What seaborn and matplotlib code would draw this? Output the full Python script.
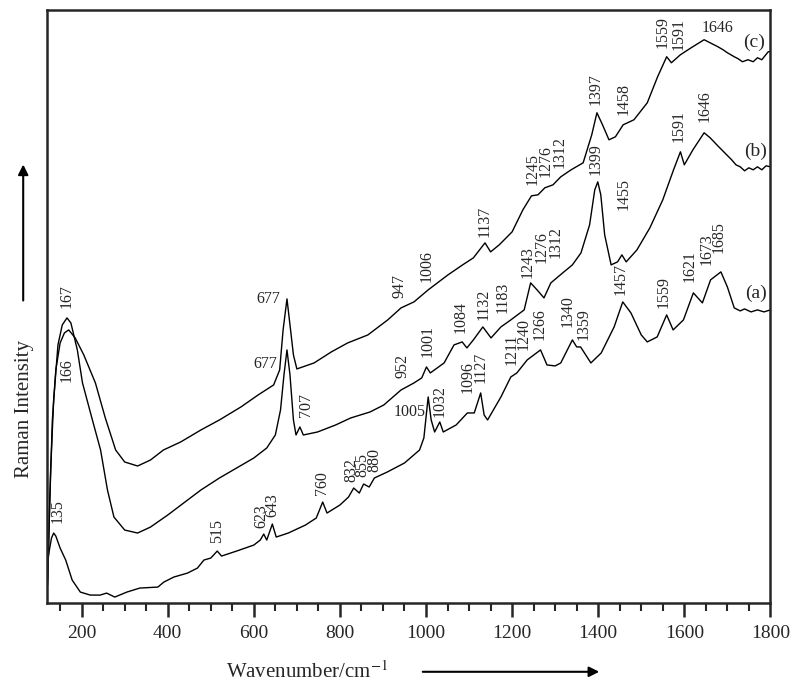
import numpy as np
import pandas as pd
import matplotlib.pyplot as plt
import seaborn as sns
from matplotlib.ticker import MultipleLocator

# traced spectra (wavenumber in cm-1, intensity in arbitrary units)
wn_a = [120, 125, 130, 135, 140, 150, 163, 178, 197, 220, 243, 258, 277, 305, 335, 377, 391, 414, 446, 469,
        484, 500, 515, 525, 560, 600, 615, 623, 630, 643, 652, 680, 720, 745, 760, 770, 800, 820, 832, 845,
        855, 868, 880, 910, 950, 985, 995, 1005, 1012, 1020, 1032, 1040, 1070, 1096, 1112, 1127, 1135, 1143,
        1174, 1197, 1211, 1235, 1266, 1281, 1300, 1313, 1340, 1350, 1359, 1383, 1407, 1437, 1457, 1476, 1500,
        1514, 1537, 1559, 1574, 1598, 1621, 1642, 1661, 1673, 1685, 1700, 1716, 1730, 1740, 1755, 1770, 1785,
        1800]
int_a = [38, 53, 65, 70, 67, 55, 43, 23, 11, 8, 8, 10, 6, 11, 15, 16, 21, 26, 30, 35,
         43, 45, 52, 47, 52, 58, 63, 69, 63, 79, 66, 70, 78, 85, 101, 90, 98, 106, 115, 110,
         119, 116, 125, 131, 140, 153, 165, 206, 183, 171, 181, 171, 178, 190, 190, 210, 188, 183,
         206, 226, 230, 243, 253, 238, 237, 240, 263, 256, 256, 240, 250, 276, 301, 290, 268,
         261, 266, 288, 273, 283, 310, 300, 323, 327, 331, 316, 295, 292, 294, 291, 293, 291,
         293]

wn_b = [121, 128, 135, 145, 155, 166, 175, 190, 202, 225, 244, 260, 275, 300, 330, 360, 400, 440, 477, 520,
        560, 600, 630, 650, 662, 670, 677, 684, 692, 698, 707, 715, 748, 790, 825, 870, 902, 942, 972, 990,
        1001, 1010, 1042, 1065, 1084, 1095, 1110, 1132, 1151, 1174, 1197, 1228, 1243, 1258, 1274, 1290, 1312,
        1340, 1360, 1380, 1392, 1399, 1406, 1415, 1430, 1445, 1455, 1465, 1490, 1520, 1550, 1575, 1591, 1600,
        1620, 1646, 1660, 1680, 1710, 1720, 1730, 1740, 1750, 1760, 1770, 1780, 1790, 1800]
int_b = [23, 133, 203, 258, 278, 285, 280, 253, 220, 183, 153, 113, 86, 73, 70, 76, 88, 101, 113, 125,
         135, 145, 155, 168, 193, 228, 253, 228, 183, 168, 176, 168, 171, 178, 185, 191, 198, 213, 220, 225,
         236, 230, 240, 258, 261, 255, 263, 276, 265, 276, 283, 293, 320, 313, 305, 320, 328,
         338, 350, 378, 413, 421, 408, 368, 338, 341, 348, 341, 353, 375, 403, 433, 451, 438,
         453, 470, 465, 456, 443, 438, 436, 432, 435, 433, 436, 433, 437, 436]

wn_c = [121, 126, 132, 140, 150, 160, 170, 185, 205, 232, 255, 279, 300, 330, 360, 390, 430, 477, 520, 570,
        610, 646, 660, 668, 677, 684, 692, 700, 740, 780, 818, 865, 911, 942, 972, 1005, 1051, 1085, 1110,
        1137, 1150, 1170, 1200, 1225, 1245, 1260, 1276, 1295, 1313, 1337, 1365, 1385, 1397, 1410, 1425, 1440,
        1458, 1483, 1514, 1538, 1559, 1570, 1591, 1616, 1646, 1678, 1690, 1700, 1716, 1725, 1735, 1748, 1760,
        1770, 1780, 1795, 1800]
int_c = [18, 103, 183, 233, 260, 270, 273, 265, 248, 220, 185, 153, 141, 137, 143, 153, 161, 173, 183, 196,
         208, 218, 233, 273, 304, 278, 248, 234, 240, 251, 260, 268, 283, 295, 301, 313, 328, 338, 345,
         360, 351, 358, 371, 393, 407, 408, 415, 418, 426, 433, 440, 468, 490, 478, 463, 466,
         478, 483, 500, 526, 546, 540, 548, 555, 563, 556, 553, 550, 546, 544, 541, 543, 541,
         545, 543, 551, 551]

# peak labels: text, wavenumber, intensity, rotation
labels_a = [("135", 144, 80, 90), ("515", 515, 60, 90), ("623", 618, 75, 90), ("643", 643, 86, 90),
            ("760", 758, 108, 90), ("832", 826, 121, 90), ("855", 852, 126, 90), ("880", 879, 131, 90),
            ("1005", 998, 191, 0), ("1032", 1032, 186, 90), ("1096", 1096, 210, 90), ("1127", 1127, 220, 90),
            ("1211", 1200, 238, 90), ("1240", 1227, 253, 90), ("1266", 1263, 263, 90), ("1340", 1330, 276, 90),
            ("1359", 1365, 263, 90), ("1457", 1453, 308, 90), ("1559", 1551, 295, 90), ("1621", 1612, 321, 90),
            ("1673", 1652, 338, 90), ("1685", 1680, 350, 90)]
labels_b = [("166", 165, 221, 90), ("677", 655, 239, 0), ("707", 721, 186, 90), ("952", 946, 225, 90),
            ("1001", 1004, 246, 90), ("1084", 1081, 270, 90), ("1132", 1135, 283, 90), ("1183", 1179, 290, 90),
            ("1243", 1236, 325, 90), ("1276", 1268, 340, 90), ("1312", 1301, 345, 90), ("1399", 1393, 428, 90),
            ("1455", 1458, 393, 90), ("1591", 1586, 461, 90), ("1646", 1648, 481, 90)]
labels_c = [("167", 165, 295, 90), ("677", 662, 304, 0), ("947", 939, 305, 90), ("1006", 1002, 321, 90),
            ("1137", 1137, 366, 90), ("1245", 1247, 418, 90), ("1276", 1279, 426, 90), ("1312", 1311, 435, 90),
            ("1397", 1393, 498, 90), ("1458", 1458, 488, 90), ("1559", 1550, 555, 90), ("1591", 1586, 553, 90),
            ("1646", 1677, 575, 0)]
curve_names = [("(a)", 1766, 310), ("(b)", 1766, 451), ("(c)", 1762, 560)]

df = pd.concat([
    pd.DataFrame({'wavenumber': wn_a, 'intensity': int_a, 'sample': 'a'}),
    pd.DataFrame({'wavenumber': wn_b, 'intensity': int_b, 'sample': 'b'}),
    pd.DataFrame({'wavenumber': wn_c, 'intensity': int_c, 'sample': 'c'}),
])

sns.set_style("ticks")
plt.rcParams['font.family'] = ['Liberation Serif', 'DejaVu Serif']
plt.rcParams['mathtext.fontset'] = 'stix'

fig = plt.figure(figsize=(8, 6.94), dpi=100)
ax = fig.add_axes([0.059, 0.131, 0.904, 0.855])

sns.lineplot(data=df, x='wavenumber', y='intensity', hue='sample', palette=['k', 'k', 'k'],
             estimator=None, linewidth=1.0, legend=False, ax=ax)

ax.set_xlim(120, 1800)
ax.set_ylim(0, 593)
ax.set_yticks([])
ax.xaxis.set_major_locator(MultipleLocator(200))
ax.xaxis.set_minor_locator(MultipleLocator(50))
ax.tick_params(axis='x', which='major', direction='out', length=10, width=1.8, labelsize=14, pad=6)
ax.tick_params(axis='x', which='minor', direction='out', length=6, width=1.5)
for s in ax.spines.values():
    s.set_linewidth(1.8)
ax.set_xlabel('')
ax.set_ylabel('')

for lab in labels_a + labels_b + labels_c:
    txt, x, y, rot = lab
    if rot == 90:
        ax.text(x, y, txt, rotation=90, ha='center', va='bottom', fontsize=11.5)
    elif txt == "1646":
        ax.text(x, y, txt, ha='center', va='center', fontsize=11.5)
    else:
        ax.text(x, y, txt, ha='right', va='center', fontsize=11.5)

for txt, x, y in curve_names:
    ax.text(x, y, txt, ha='center', va='center', fontsize=14)

fig.text(0.384, 0.032, 'Wavenumber/cm$^{-1}$', ha='center', va='center', fontsize=15)
fig.text(0.03, 0.41, 'Raman Intensity', rotation=90, ha='center', va='center', fontsize=15)
ax.annotate('', xy=(0.7525, 0.032), xytext=(0.525, 0.032), xycoords='figure fraction',
            arrowprops=dict(arrowstyle='-|>', color='k', lw=1.5, mutation_scale=15))
ax.annotate('', xy=(0.029, 0.767), xytext=(0.029, 0.563), xycoords='figure fraction',
            arrowprops=dict(arrowstyle='-|>', color='k', lw=1.5, mutation_scale=15))

plt.savefig('out.png', dpi=100)
